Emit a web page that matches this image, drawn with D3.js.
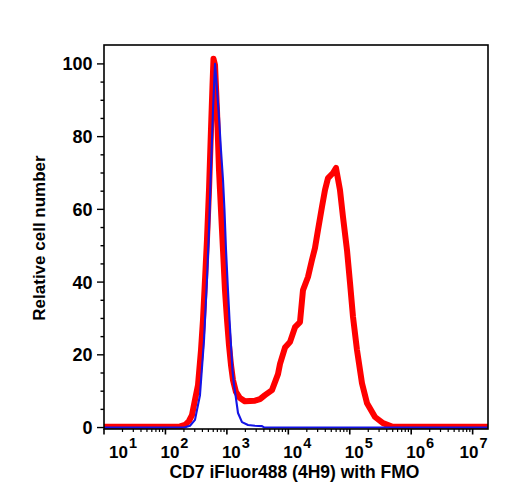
<!DOCTYPE html>
<html>
<head>
<meta charset="utf-8">
<script src="https://cdn.jsdelivr.net/npm/d3@7"></script>
<style>
  html, body { margin: 0; padding: 0; background: #fff; }
  text { font-family: "Liberation Sans", Arial, Helvetica, sans-serif; font-weight: bold; fill: #000; }
</style>
</head>
<body>
<svg id="chart" width="508" height="500"></svg>
<script>
// ---- data (x as log10 of fluorescence intensity, y as relative cell number) ----
const decades = [1, 2, 3, 4, 5, 6, 7];
const yTicks = [0, 20, 40, 60, 80, 100];
const xTitle = "CD7 iFluor488 (4H9) with FMO";
const yTitle = "Relative cell number";

const sampleLog = [1.0, 1.75, 2.237, 2.318, 2.383, 2.432, 2.481, 2.530, 2.579, 2.611, 2.644, 2.676, 2.709, 2.741, 2.766, 2.782,
  2.807, 2.839, 2.872, 2.904, 2.937, 2.969, 3.002, 3.034, 3.067, 3.099, 3.148, 3.213, 3.295, 3.376, 3.458, 3.539, 3.620,
  3.734, 3.832, 3.865, 3.946, 4.027, 4.109, 4.190, 4.239, 4.320, 4.385, 4.434, 4.483, 4.548, 4.597, 4.646, 4.727, 4.776,
  4.841, 4.890, 4.955, 5.004, 5.053, 5.118, 5.199, 5.281, 5.411, 5.541, 5.688, 6.143, 7.25];
const sampleCount = [0.2, 0.2, 0.3, 0.7, 1.8, 3.4, 7.6, 11.7, 21.3, 29.6, 40.6, 51.6, 65.3, 81.8, 94.1, 101.4,
  99.7, 87.3, 70.8, 59.8, 48.8, 37.8, 29.6, 22.7, 17.2, 13.1, 9.8, 8.1, 7.2, 7.3, 7.4, 7.8, 8.9,
  10.3, 14.7, 17.5, 22.0, 23.5, 27.6, 29.0, 37.8, 41.4, 46.1, 49.4, 54.3, 60.7, 65.3, 68.6, 70.0, 71.4,
  65.3, 57.9, 48.8, 39.8, 30.4, 21.3, 12.2, 6.7, 2.9, 1.2, 0.3, 0.2, 0.2];

const fmoLog = [1.0, 1.75, 2.318, 2.400, 2.481, 2.562, 2.628, 2.676, 2.709, 2.741, 2.774, 2.807, 2.839, 2.872, 2.904,
  2.937, 2.961, 2.986, 3.018, 3.043, 3.067, 3.091, 3.116, 3.140, 3.181, 3.246, 3.344, 3.458, 3.572, 3.604, 4.19, 7.25];
const fmoCount = [0, 0, 0.1, 0.5, 2.1, 8.9, 24.1, 40.6, 54.3, 70.8, 87.3, 100.0, 93.2, 85.3, 76.3,
  68.1, 59.8, 48.8, 37.8, 29.6, 22.7, 15.8, 11.7, 9.0, 4.0, 1.5, 0.7, 0.5, 0.4, 0.05, 0, 0];

// ---- layout ----
const svg = d3.select("#chart");
const L = 104, R = 488, T = 45, B = 429;

const x = d3.scaleLog().domain([10, Math.pow(10, 7.25)]).range([L, R]);
const y = d3.scaleLinear().domain([-0.4, 105.2]).range([B, T]);

const toPts = (logs, vals) => logs.map((l, i) => [Math.pow(10, l), vals[i]]);
const line = d3.line().x(d => x(d[0])).y(d => y(d[1]));

svg.append("clipPath").attr("id", "plotclip")
  .append("rect").attr("x", L).attr("y", T - 10).attr("width", R - L).attr("height", B - T + 10);

const g = svg.append("g").attr("clip-path", "url(#plotclip)");
g.append("path").datum(toPts(sampleLog, sampleCount))
  .attr("d", line).attr("fill", "none").attr("stroke", "#ff0000")
  .attr("stroke-width", 6).attr("stroke-linejoin", "round").attr("stroke-linecap", "round");
g.append("path").datum(toPts(fmoLog, fmoCount))
  .attr("d", line).attr("fill", "none").attr("stroke", "#1414e6")
  .attr("stroke-width", 2.1).attr("stroke-linejoin", "round");

// ---- frame ----
svg.append("rect").attr("x", L).attr("y", T).attr("width", R - L).attr("height", B - T)
  .attr("fill", "none").attr("stroke", "#000").attr("stroke-width", 1.6);

// ---- y axis ----
const yMinor = d3.range(0, 101, 5);
const yAx = svg.append("g");
yAx.selectAll("line").data(yMinor).enter().append("line")
  .attr("x1", d => yTicks.includes(d) ? L - 7 : L - 3.5).attr("x2", L)
  .attr("y1", d => y(d)).attr("y2", d => y(d))
  .attr("stroke", "#000").attr("stroke-width", 1.4);
yAx.selectAll("text").data(yTicks).enter().append("text")
  .attr("x", L - 11.5).attr("y", d => y(d)).attr("dy", "0.36em")
  .attr("text-anchor", "end").style("font-size", "18px").text(d => d);

// ---- x axis ----
const xMinor = [];
decades.forEach(dc => { for (let m = 2; m <= 9; m++) { const v = m * Math.pow(10, dc); if (v <= x.domain()[1]) xMinor.push(v); } });
const xAx = svg.append("g");
xAx.selectAll("line.major").data(decades).enter().append("line").attr("class", "major")
  .attr("x1", d => x(Math.pow(10, d))).attr("x2", d => x(Math.pow(10, d)))
  .attr("y1", B).attr("y2", B + 5.5).attr("stroke", "#000").attr("stroke-width", 1.6);
xAx.selectAll("line.minor").data(xMinor).enter().append("line").attr("class", "minor")
  .attr("x1", d => x(d)).attr("x2", d => x(d))
  .attr("y1", B).attr("y2", B + 3).attr("stroke", "#000").attr("stroke-width", 1.2);

const labels = xAx.selectAll("text").data(decades).enter().append("text")
  .attr("y", 458.3).style("font-size", "17px");
labels.append("tspan").text("10");
labels.append("tspan").attr("dy", -10).attr("dx", 1).style("font-size", "14.5px").text(d => d);
labels.each(function(d) {
  const w = this.getComputedTextLength() + 1;
  let sx = x(Math.pow(10, d)) - 5;
  if (sx < L + 5) sx = L + 5;
  if (sx + w > R - 0.5) sx = R - 0.5 - w;
  d3.select(this).attr("x", sx);
});

// ---- titles ----
svg.append("text").attr("x", (L + R) / 2 - 1.5).attr("y", 478)
  .attr("text-anchor", "middle").style("font-size", "17.5px").text(xTitle);
svg.append("text").attr("transform", `translate(45,${(T + B) / 2 + 1}) rotate(-90)`)
  .attr("text-anchor", "middle").style("font-size", "17px").text(yTitle);
</script>
</body>
</html>
